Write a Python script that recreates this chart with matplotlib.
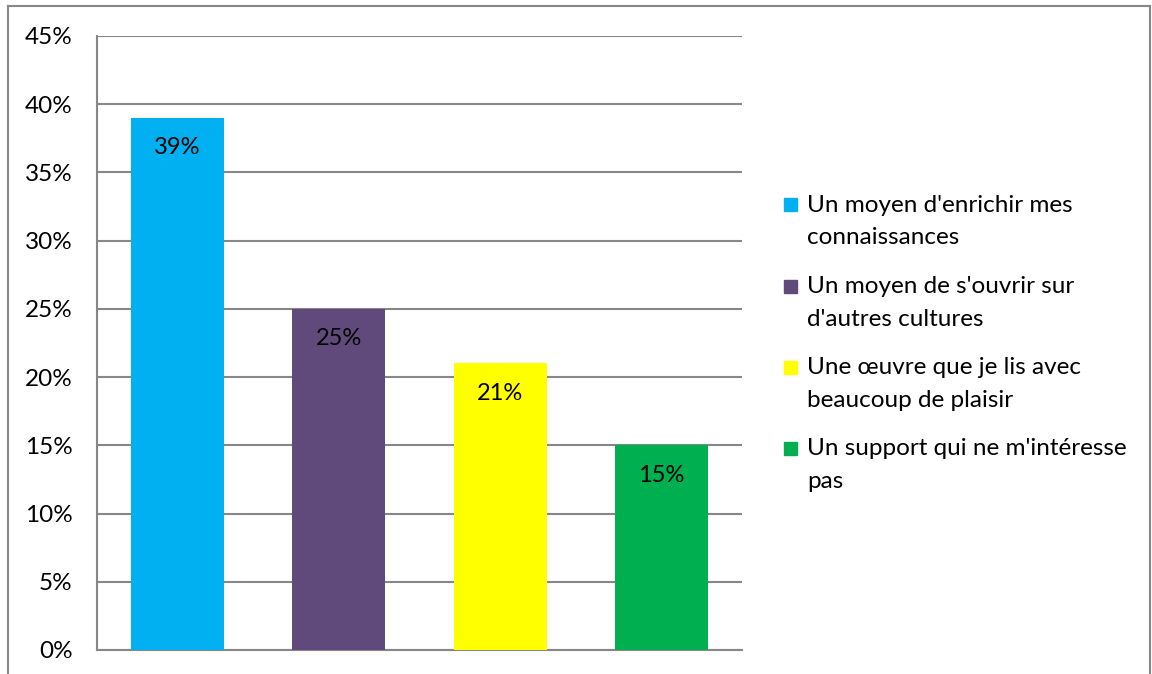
import matplotlib.pyplot as plt
from matplotlib.lines import Line2D
from matplotlib.patches import Rectangle
from matplotlib.ticker import PercentFormatter

plt.rcParams['font.family'] = ['Lato', 'DejaVu Sans']

categories = [
    "Un moyen d'enrichir mes\nconnaissances",
    "Un moyen de s'ouvrir sur\nd'autres cultures",
    "Une œuvre que je lis avec\nbeaucoup de plaisir",
    "Un support qui ne m'intéresse\npas",
]
values = [39, 25, 21, 15]
colors = ['#00B0F0', '#604A7B', '#FFFF00', '#00B050']
y_ticks = [0, 5, 10, 15, 20, 25, 30, 35, 40, 45]

W, H = 1152, 674
fig = plt.figure(figsize=(W / 100, H / 100), dpi=100)
ax = fig.add_axes([97 / W, 24 / H, 645 / W, 614 / H])

grid_color = '#878787'
for i, (v, c) in enumerate(zip(values, colors)):
    ax.bar(i, v, width=0.578, color=c, zorder=3)
    ax.annotate(f'{v}%', (i, v), xytext=(0, -21.5), textcoords='offset points',
                ha='center', va='center', fontsize=17, color='black', zorder=4)

ax.set_xlim(-0.5, 3.5)
ax.set_ylim(0, 45)
ax.set_yticks(y_ticks)
ax.yaxis.set_major_formatter(PercentFormatter(decimals=0))
ax.set_xticks([])
ax.tick_params(axis='y', length=0, pad=17.5, labelsize=17.5)
ax.yaxis.grid(True, color=grid_color, linewidth=1.5, zorder=0)
for side in ['top', 'right']:
    ax.spines[side].set_visible(False)
for side in ['left', 'bottom']:
    ax.spines[side].set_color(grid_color)
    ax.spines[side].set_linewidth(1.5)

# legend on the right: square swatch next to the first line of each label
px = lambda x, y: (x / W, 1 - y / H)
for i, (lab, c) in enumerate(zip(categories, colors)):
    y0 = 205 + 81.3 * i
    fig.add_artist(Rectangle(px(784, y0 + 6.5), 13 / W, 13 / H, color=c,
                             transform=fig.transFigure))
    for j, line in enumerate(lab.split('\n')):
        fig.text(*px(807, y0 + 33 * j), line, fontsize=17.5,
                 ha='left', va='center')

# outer frame around the chart
fr = dict(color='#878787', linewidth=1.5, transform=fig.transFigure)
fig.add_artist(Line2D([8 / W, 1150 / W], [1 - 6 / H, 1 - 6 / H], **fr))
fig.add_artist(Line2D([8 / W, 8 / W], [0, 1 - 6 / H], **fr))
fig.add_artist(Line2D([1150 / W, 1150 / W], [0, 1 - 6 / H], **fr))

fig.savefig('out.png', dpi=100)
